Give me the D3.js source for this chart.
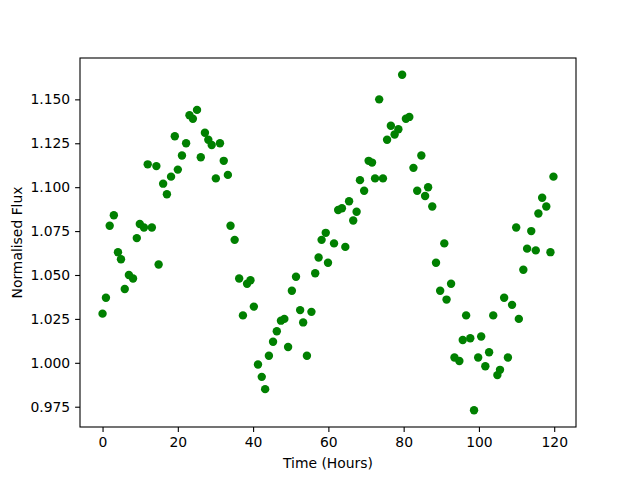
<!DOCTYPE html>
<html>
<head>
<meta charset="utf-8">
<script src="https://cdn.jsdelivr.net/npm/d3@7"></script>
<style>
  body { margin: 0; background: #fff; }
  text { font-family: "DejaVu Sans", sans-serif; fill: #000; }
</style>
</head>
<body>
<div id="chart"></div>
<script>
// time of each sample, hours
const hours = [
  0.0, 0.9, 1.9, 3.0, 4.1, 4.9, 5.9, 7.0, 8.1, 9.1,
  9.9, 11.0, 12.0, 13.1, 14.3, 14.9, 16.1, 17.1, 18.2, 19.2,
  20.0, 21.1, 22.2, 23.1, 24.0, 25.1, 26.1, 27.2, 28.1, 29.0,
  30.1, 31.2, 32.2, 33.3, 34.0, 35.1, 36.3, 37.3, 38.4, 39.3,
  40.2, 41.3, 42.3, 43.2, 44.2, 45.3, 46.3, 47.4, 48.3, 49.3,
  50.3, 51.4, 52.5, 53.3, 54.3, 55.5, 56.5, 57.4, 58.2, 59.3,
  59.9, 61.5, 62.6, 63.6, 64.5, 65.5, 66.6, 67.5, 68.4, 69.5,
  70.7, 71.6, 72.4, 73.5, 74.5, 75.6, 76.6, 77.6, 78.6, 79.6,
  80.6, 81.5, 82.6, 83.6, 84.7, 85.7, 86.5, 87.6, 88.6, 89.7,
  90.8, 91.4, 92.6, 93.5, 94.8, 95.7, 96.6, 97.7, 98.7, 99.8,
  100.6, 101.7, 102.7, 103.8, 104.9, 105.6, 106.7, 107.7, 108.8, 109.9,
  110.6, 111.8, 112.8, 113.9, 115.1, 115.8, 116.8, 117.9, 119.0, 119.8
];

// normalised flux at each time
const flux = [
  1.028, 1.037, 1.078, 1.084, 1.063, 1.059, 1.042, 1.050, 1.048, 1.071,
  1.079, 1.077, 1.113, 1.077, 1.112, 1.056, 1.102, 1.096, 1.106, 1.129,
  1.110, 1.118, 1.125, 1.141, 1.139, 1.144, 1.117, 1.131, 1.127, 1.124,
  1.105, 1.125, 1.115, 1.107, 1.078, 1.070, 1.048, 1.027, 1.045, 1.047,
  1.032, 0.999, 0.992, 0.985, 1.004, 1.012, 1.018, 1.024, 1.025, 1.009,
  1.041, 1.049, 1.030, 1.023, 1.004, 1.029, 1.051, 1.060, 1.070, 1.074,
  1.057, 1.068, 1.087, 1.088, 1.066, 1.092, 1.081, 1.086, 1.104, 1.098,
  1.115, 1.114, 1.105, 1.150, 1.105, 1.127, 1.135, 1.130, 1.133, 1.164,
  1.139, 1.140, 1.111, 1.098, 1.118, 1.095, 1.100, 1.089, 1.057, 1.041,
  1.068, 1.036, 1.045, 1.003, 1.001, 1.013, 1.027, 1.014, 0.973, 1.003,
  1.015, 0.998, 1.006, 1.027, 0.993, 0.996, 1.037, 1.003, 1.033, 1.077,
  1.025, 1.053, 1.065, 1.075, 1.064, 1.085, 1.094, 1.089, 1.063, 1.106
];

const xTicks = [0, 20, 40, 60, 80, 100, 120];
const yTicks = [0.975, 1.000, 1.025, 1.050, 1.075, 1.100, 1.125, 1.150];

const width = 640, height = 480;
const margin = {top: 58, right: 64, bottom: 53, left: 80};
const innerW = width - margin.left - margin.right;
const innerH = height - margin.top - margin.bottom;
const fontSize = 13.9;
const tickLen = 4.9;

// matplotlib style 5% padding around the data
function padded(values) {
  const [lo, hi] = d3.extent(values);
  const pad = (hi - lo) * 0.05;
  return [lo - pad, hi + pad];
}

const svg = d3.select('#chart')
  .append('svg')
  .attr('width', width)
  .attr('height', height);

const g = svg.append('g')
  .attr('transform', `translate(${margin.left},${margin.top})`);

const x = d3.scaleLinear()
  .domain(padded(hours))
  .range([0, innerW]);

const y = d3.scaleLinear()
  .domain(padded(flux))
  .range([innerH, 0]);

const xAxis = g.append('g')
  .attr('transform', `translate(0,${innerH})`)
  .call(d3.axisBottom(x).tickValues(xTicks).tickFormat(d3.format('d'))
    .tickSize(tickLen).tickSizeOuter(0).tickPadding(4.9));

const yAxis = g.append('g')
  .call(d3.axisLeft(y).tickValues(yTicks).tickFormat(d3.format('.3f'))
    .tickSize(tickLen).tickSizeOuter(0).tickPadding(4.9));

[xAxis, yAxis].forEach(a => {
  a.select('.domain').remove();
  a.selectAll('line').attr('stroke', '#000').attr('stroke-width', 1.1);
  a.selectAll('text')
    .style('font-family', '"DejaVu Sans", sans-serif')
    .style('font-size', fontSize + 'px')
    .attr('fill', '#000');
});

g.selectAll('.dot')
  .data(hours)
  .enter()
  .append('circle')
  .attr('class', 'dot')
  .attr('cx', d => x(d))
  .attr('cy', (d, i) => y(flux[i]))
  .attr('r', 4.2)
  .attr('fill', '#008000');

// axes frame
g.append('rect')
  .attr('width', innerW)
  .attr('height', innerH)
  .attr('fill', 'none')
  .attr('stroke', '#000')
  .attr('stroke-width', 1.1);

svg.append('text')
  .attr('x', margin.left + innerW / 2)
  .attr('y', 468)
  .attr('text-anchor', 'middle')
  .style('font-size', fontSize + 'px')
  .text('Time (Hours)');

svg.append('text')
  .attr('transform', `translate(22,${margin.top + innerH / 2}) rotate(-90)`)
  .attr('text-anchor', 'middle')
  .style('font-size', fontSize + 'px')
  .text('Normalised Flux');
</script>
</body>
</html>
